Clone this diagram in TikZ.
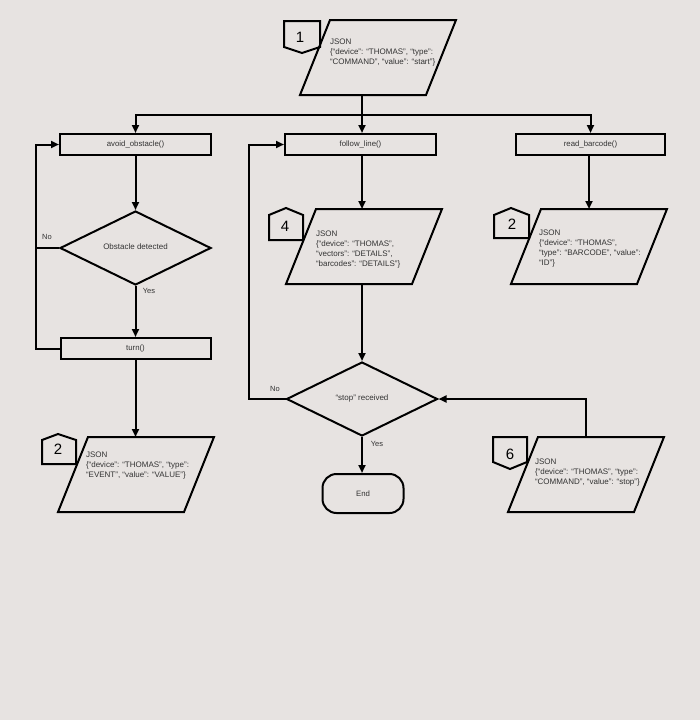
\documentclass[tikz,border=0pt]{standalone}
\usepackage{fontspec}
\setmainfont{Liberation Sans}
\usetikzlibrary{arrows.meta,shapes.geometric}
\definecolor{bg}{HTML}{E7E3E1}
\definecolor{txt}{HTML}{333333}
\begin{document}
\begin{tikzpicture}[x=1pt,y=-1pt,line width=2pt,
  >={Triangle[length=8pt,width=7pt]},
  proc/.style={draw,minimum height=21pt,inner sep=0pt,font=\fontsize{7.8}{9}\selectfont,text=txt},
  dec/.style={draw,diamond,inner sep=0pt,minimum width=151pt,minimum height=74pt,font=\fontsize{8}{9}\selectfont,text=txt},
  jtxt/.style={anchor=north west,align=left,inner sep=0pt,font=\fontsize{8}{10}\selectfont,text=txt},
  lbl/.style={inner sep=0pt,font=\fontsize{7.5}{9}\selectfont,text=txt},
  num/.style={inner sep=0pt,font=\fontsize{15}{15}\selectfont},
  para/.pic={\draw[line width=2pt] (30,0) -- (156,0) -- (126,75) -- (0,75) -- cycle;}
]
\fill[bg] (0,0) rectangle (700,720);
\useasboundingbox (0,0) rectangle (700,720);

% top input
\pic (p1) at (300,20) {para};
\node[jtxt] (t1) at (329,37.5) {JSON\\\{“device”: “THOMAS”, “type”:\\“COMMAND”, “value”: “start”\}};
\draw (284,21) -- (320,21) -- (320,47) -- (302,53) -- (284,47) -- cycle;
\node[num] (n1) at (300,37) {1};
\coordinate (p1b) at (362,95);
\coordinate (split) at (362,115);

% process boxes
\node[proc,minimum width=151pt] (avoid) at (135.5,144.5) {avoid\_obstacle()};
\node[proc,minimum width=151pt] (follow) at (360.5,144.5) {follow\_line()};
\node[proc,minimum width=149pt] (read) at (590.5,144.5) {read\_barcode()};
\node[proc,minimum width=150pt] (turn) at (135.5,348.5) {turn()};

\draw (p1b) -- (split);
\draw[->] (split) -| (avoid.north);
\draw[->] (split) -| (read.north);
\draw[->] (split) -- (follow.north -| split);

% left column
\node[dec] (obs) at (135.5,248) {\raisebox{3pt}{Obstacle detected}};
\draw[->] (avoid.south) -- (obs.north);
\draw[->] (obs.south) -- (turn.north);
\node[lbl] (yes1) at (149,291) {Yes};
\coordinate (lx) at (36,248);
\draw[->] (obs.west) -- (lx) |- (avoid.west);
\draw (turn.west) -| (lx);
\node[lbl] (no1) at (47,237) {No};

\pic (p2) at (58,437) {para};
\node[jtxt] (t2) at (85,451) {JSON\\\{“device”: “THOMAS”, “type”:\\“EVENT”, “value”: “VALUE”\}};
\draw (42,464) -- (76,464) -- (76,440) -- (58,434) -- (42,440) -- cycle;
\node[num] (n2) at (58,449) {2};
\coordinate (p2t) at (135.5,437);
\draw[->] (turn.south) -- (p2t);

% middle column
\pic (p4) at (286,209) {para};
\node[jtxt] (t4) at (315,230) {JSON\\\{“device”: “THOMAS”,\\“vectors”: “DETAILS”,\\“barcodes”: “DETAILS”\}};
\draw (269,240) -- (303,240) -- (303,215) -- (286,208) -- (269,215) -- cycle;
\node[num] (n4) at (285,226) {4};
\coordinate (p4t) at (362,209);
\coordinate (p4b) at (362,285);
\draw[->] (follow.south -| p4t) -- (p4t);

\node[dec] (stop) at (362,399) {\raisebox{3pt}{“stop” received}};
\draw[->] (p4b) -- (stop.north);
\node[rectangle,draw,rounded corners=14pt,minimum width=81pt,minimum height=39pt,inner sep=0pt,font=\fontsize{7.8}{9}\selectfont,text=txt] (end) at (363,493.5) {End};
\draw[->] (stop.south) -- (stop.south |- end.north);
\node[lbl] (yes2) at (377,444) {Yes};
\coordinate (mx) at (249,399);
\draw[->] (stop.west) -- (mx) |- (follow.west);
\node[lbl] (no2) at (275,389) {No};

% right column
\pic (p3) at (511,209) {para};
\node[jtxt] (t3) at (538,228.5) {JSON\\\{“device”: “THOMAS”,\\“type”: “BARCODE”, “value”:\\“ID”\}};
\draw (494,238) -- (529,238) -- (529,215) -- (511,208) -- (494,215) -- cycle;
\node[num] (n3) at (512,224) {2};
\coordinate (p3t) at (589,209);
\draw[->] (read.south -| p3t) -- (p3t);

\pic (p6) at (508,437) {para};
\node[jtxt] (t6) at (534,457.5) {JSON\\\{“device”: “THOMAS”, “type”:\\“COMMAND”, “value”:  “stop”\}};
\draw (493,437) -- (527,437) -- (527,462) -- (510,469) -- (493,462) -- cycle;
\node[num] (n6) at (510,454) {6};
\coordinate (p6t) at (586,437);
\draw[->] (p6t) |- (stop.east);
\end{tikzpicture}
\end{document}
